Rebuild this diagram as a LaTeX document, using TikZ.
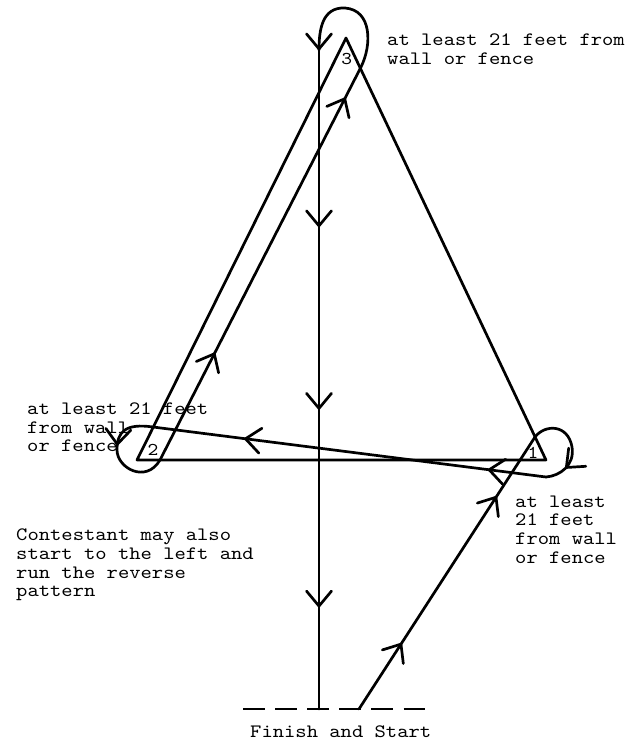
\documentclass[tikz,border=0pt]{standalone}
\usepackage{fontspec}
\newfontfamily\courlike{lmmono10-regular.otf}[FakeStretch=1.14]
\usetikzlibrary{arrows.meta,decorations.markings}
\begin{document}
\begin{tikzpicture}[x=1pt,y=-1pt,
  ln/.style={line width=2.7pt, line cap=round, line join=round},
  chev/.style={postaction={decorate,decoration={markings,mark=at position #1 with {\arrow{Straight Barb[length=15pt,width=25pt,line cap=round]}}}}},
  lbl/.style={inner sep=0pt, font=\courlike\fontsize{18.9}{18.7}\selectfont, align=left},
  num/.style={inner sep=0pt, font=\courlike\fontsize{18}{18}\selectfont}]
\useasboundingbox (0,0) rectangle (634,741);
% triangle corners
\coordinate (v3) at (346,38);
\coordinate (v2) at (137,460);
\coordinate (v1) at (546,460);
% path points
\coordinate (st) at (359,709);
\coordinate (r0) at (535,437);
\coordinate (r1) at (546,477);
\coordinate (l0) at (153,427);
\coordinate (l1) at (160,460);
\coordinate (t0) at (361,67);
\coordinate (t1) at (319,50);
\coordinate (f0) at (319,709);
\coordinate (d0) at (243,709);
\coordinate (d1) at (425,709);
% triangle
\draw[ln] (v1) -- (v2) -- (v3) -- cycle;
% start leg
\draw[ln, chev=0.245, chev=0.785] (st) -- (r0);
% loop round 1
\draw[ln, chev=0.78] (r0) .. controls (545,424) and (568,424) .. (572,447) .. controls (575,465) and (560,476) .. (r1);
% leg to 2
\draw[ln, chev=0.15, chev=0.77] (r1) -- (l0);
% loop round 2
\draw[ln, chev=0.43] (l0) .. controls (125,423) and (117,432) .. (117,450) .. controls (117,468) and (146,484) .. (l1);
% leg to 3
\draw[ln, chev=0.275, chev=0.924] (l1) -- (t0);
% loop round 3
\draw[ln] (t0) .. controls (372,45) and (372,10) .. (345,8) .. controls (322,7) and (319,30) .. (t1);
% home stretch
\draw[ln, chev={1pt}, chev=0.27, chev=0.547, chev=0.847] (t1) -- (f0);
% finish line
\draw[line width=2.7pt, dash pattern=on 21.5pt off 10.6pt] (d0) -- (d1);
% labels
\node[num] (n3) at (346.7,59) {3};
\node[num] (n2) at (153,450) {2};
\node[num] (n1) at (533,453) {1};
\node[lbl, anchor=base west] (ttr) at (387,64.3) {at least 21 feet from\\wall or fence};
\node[lbl, anchor=base west] (tul) at (27,451.7) {at least 21 feet\\from wall\\or fence};
\node[lbl, anchor=base west] (tlr) at (515,563.3) {at least\\21 feet\\from wall\\or fence};
\node[lbl, anchor=base west] (tll) at (16,596.7) {Contestant may also\\start to the left and\\run the reverse\\pattern};
\node[lbl, anchor=base west] (tfs) at (250,737.3) {Finish and Start};
\end{tikzpicture}
\end{document}
